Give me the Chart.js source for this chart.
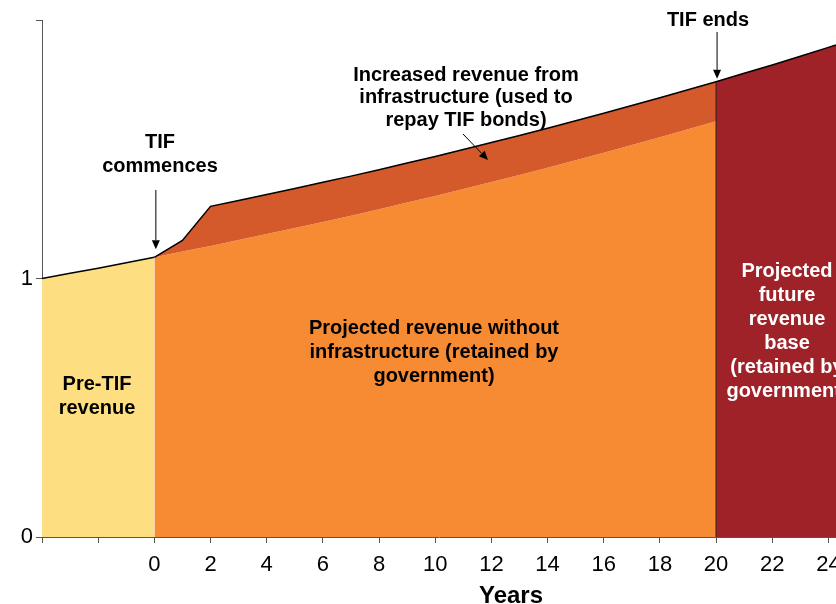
<!DOCTYPE html>
<html>
<head>
<meta charset="utf-8">
<style>
  html, body { margin: 0; padding: 0; background: #ffffff; }
  #wrap { width: 836px; height: 604px; }
</style>
<script src="https://cdn.jsdelivr.net/npm/chart.js@4"></script>
</head>
<body>
<div id="wrap"><canvas id="c" width="836" height="604"></canvas></div>
<script>
// ---- data ----
const preTifYears   = [-4, -3, -2, -1, 0];
const preTifValues  = [1.000, 1.020, 1.040, 1.061, 1.082];

const tifYears      = [0, 1, 2, 3, 4, 5, 6, 7, 8, 9, 10, 11, 12, 13, 14, 15, 16, 17, 18, 19, 20];
const baseValues    = [1.082, 1.104, 1.126, 1.149, 1.172, 1.195, 1.219, 1.243, 1.268, 1.294, 1.319,
                       1.346, 1.373, 1.400, 1.428, 1.457, 1.486, 1.516, 1.546, 1.577, 1.608];
const withInfraValues = [1.082, 1.147, 1.279, 1.302, 1.325, 1.348, 1.372, 1.396, 1.421, 1.447, 1.472,
                       1.499, 1.526, 1.553, 1.581, 1.610, 1.639, 1.669, 1.699, 1.730, 1.761];

const futureYears   = [20, 21, 22, 23, 24, 24.27];
const futureValues  = [1.761, 1.794, 1.826, 1.860, 1.894, 1.903];

const xTickValues   = [-4, -2, 0, 2, 4, 6, 8, 10, 12, 14, 16, 18, 20, 22, 24];
const xTickLabels   = ['', '', '0', '2', '4', '6', '8', '10', '12', '14', '16', '18', '20', '22', '24'];
const yTickValues   = [0, 1, 2];
const yTickLabels   = ['0', '1', ''];

const xMin = -4, xMax = 24.27, yMin = 0, yMax = 2;
const tifEndYear = 20;

// ---- helpers ----
const pts = (xs, ys) => xs.map((x, i) => ({ x: x, y: ys[i] }));

const FONT = '"Liberation Sans", Arial, Helvetica, sans-serif';

const annotations = {
  id: 'annotations',
  afterDraw(chart) {
    const ctx = chart.ctx;
    const xs = chart.scales.x, ys = chart.scales.y;
    ctx.save();

    function lines(arr, cx, firstBaseline, lh, color) {
      ctx.fillStyle = color;
      ctx.font = 'bold 20px ' + FONT;
      ctx.textAlign = 'center';
      ctx.textBaseline = 'alphabetic';
      arr.forEach((t, i) => ctx.fillText(t, cx, firstBaseline + i * lh));
    }
    function arrow(x1, y1, x2, y2) {
      ctx.strokeStyle = '#000';
      ctx.fillStyle = '#000';
      ctx.lineWidth = 1;
      const ang = Math.atan2(y2 - y1, x2 - x1);
      const hl = 9, hw = 4;
      const bx = x2 - hl * Math.cos(ang), by = y2 - hl * Math.sin(ang);
      ctx.beginPath();
      ctx.moveTo(x1, y1);
      ctx.lineTo(bx, by);
      ctx.stroke();
      ctx.beginPath();
      ctx.moveTo(x2, y2);
      ctx.lineTo(bx + hw * Math.sin(ang), by - hw * Math.cos(ang));
      ctx.lineTo(bx - hw * Math.sin(ang), by + hw * Math.cos(ang));
      ctx.closePath();
      ctx.fill();
    }

    // Axis title
    ctx.fillStyle = '#000';
    ctx.font = 'bold 24px ' + FONT;
    ctx.textAlign = 'center';
    ctx.textBaseline = 'alphabetic';
    ctx.fillText('Years', 511, 603);

    lines(['TIF', 'commences'], 160, 148, 24, '#000');
    const x0 = xs.getPixelForValue(0) + 1.5;
    arrow(x0, 190, x0, ys.getPixelForValue(preTifValues[preTifValues.length - 1]) - 8);

    lines(['Increased revenue from', 'infrastructure (used to', 'repay TIF bonds)'], 466, 81, 22.3, '#000');
    arrow(463, 134, 488, 160);

    lines(['TIF ends'], 708, 26, 24, '#000');
    const x20 = xs.getPixelForValue(tifEndYear) + 1;
    arrow(x20, 32, x20, ys.getPixelForValue(futureValues[0]) - 3);

    lines(['Projected revenue without', 'infrastructure (retained by', 'government)'], 434, 334, 24, '#000');
    lines(['Pre-TIF', 'revenue'], 97, 390, 23.5, '#000');
    lines(['Projected', 'future', 'revenue', 'base', '(retained by', 'government)'], 787, 277, 24, '#ffffff');

    ctx.restore();
  }
};

new Chart(document.getElementById('c'), {
  type: 'line',
  data: {
    datasets: [
      { // TIF-end divider
        data: [{ x: tifEndYear, y: 0 }, { x: tifEndYear, y: futureValues[0] }],
        borderColor: '#2a1a10', borderWidth: 1, fill: false, pointRadius: 0
      },
      { // pre-TIF revenue
        data: pts(preTifYears, preTifValues),
        borderColor: '#000', borderWidth: 1.5, backgroundColor: '#FDDE80',
        fill: 'origin', pointRadius: 0
      },
      { // increased revenue from infrastructure (top line)
        data: pts(tifYears, withInfraValues),
        borderColor: '#000', borderWidth: 1.5, backgroundColor: '#D55A2B',
        fill: 3, pointRadius: 0
      },
      { // projected revenue without infrastructure
        data: pts(tifYears, baseValues),
        borderColor: 'rgba(0,0,0,0)', borderWidth: 0, backgroundColor: '#F68B34',
        fill: 'origin', pointRadius: 0
      },
      { // future revenue base
        data: pts(futureYears, futureValues),
        borderColor: '#000', borderWidth: 1.5, backgroundColor: '#A02229',
        fill: 'origin', pointRadius: 0
      }
    ]
  },
  options: {
    responsive: false,
    animation: false,
    events: [],
    layout: { padding: { top: 20, left: 0, right: 0, bottom: 0 } },
    elements: { line: { tension: 0 } },
    plugins: { legend: { display: false }, tooltip: { enabled: false }, title: { display: false } },
    scales: {
      x: {
        type: 'linear', min: xMin, max: xMax,
        afterBuildTicks(s) { s.ticks = xTickValues.map(v => ({ value: v })); },
        afterFit(s) { s.height = 67; s.paddingLeft = 0; s.paddingRight = 0; },
        ticks: {
          autoSkip: false, maxRotation: 0, padding: 9, color: '#000',
          font: { family: FONT, size: 22 },
          callback(v, i) { return xTickLabels[i]; }
        },
        grid: { display: true, drawOnChartArea: false, drawTicks: true, tickLength: 6, color: '#555', lineWidth: 1 },
        border: { display: true, color: '#555', width: 1 }
      },
      y: {
        type: 'linear', min: yMin, max: yMax,
        afterBuildTicks(s) { s.ticks = yTickValues.map(v => ({ value: v })); },
        afterFit(s) { s.width = 42; s.paddingTop = 0; s.paddingBottom = 0; },
        ticks: {
          autoSkip: false, padding: 3, color: '#000',
          font: { family: FONT, size: 22 },
          callback(v, i) { return yTickLabels[i]; }
        },
        grid: { display: true, drawOnChartArea: false, drawTicks: true, tickLength: 6, color: '#555', lineWidth: 1 },
        border: { display: true, color: '#555', width: 1 }
      }
    }
  },
  plugins: [annotations]
});
</script>
</body>
</html>
